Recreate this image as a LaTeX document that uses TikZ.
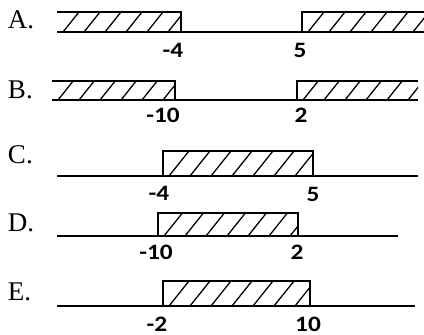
\documentclass[tikz,border=0pt]{standalone}
\usepackage{fontspec}
\usepackage{graphicx}
\setmainfont{Liberation Serif}
\newfontfamily\numfont{Carlito}
\begin{document}
\begin{tikzpicture}[x=1pt,y=-1pt,line width=2pt,
	hatch/.style={line width=1.3pt},
	num/.style={font=\numfont\bfseries\fontsize{22}{22}\selectfont,anchor=base,inner sep=0pt},
	lett/.style={font=\fontsize{27}{27}\selectfont,anchor=base west,inner sep=0pt}]
	\useasboundingbox (0,0) rectangle (424,335);
	
	% Hatching (left, right, top, bottom)
	\foreach \xa/\xb/\yt/\yb in {57/181/12/32, 302/424/12/32,
		52/175/81/100, 297/418/81/100, 163/313/151/176,
		158/298/213/236, 163/310/281/306}
	{
		\begin{scope}
			\clip (\xa,\yt) rectangle (\xb,\yb);
			\foreach \h in {0,1,...,7}
			\draw[hatch] (\xa+6+\h*21,\yb) -- ++(0.8*\yb-0.8*\yt,\yt-\yb);
		\end{scope}
	}
	
	% Axes
	\draw (57,32)--(424,32);
	\draw (52,100)--(418,100);
	\draw (57,176)--(418,176);
	\draw (57,236)--(398,236);
	\draw (57,306)--(415,306);
	
	% Boxes
	\draw (57,12)--(181,12)--(181,32);
	\draw (424,12)--(302,12)--(302,32);
	\draw (52,81)--(175,81)--(175,100);
	\draw (418,81)--(297,81)--(297,100);
	\draw (163,176)--(163,151)--(313,151)--(313,176);
	\draw (158,236)--(158,213)--(298,213)--(298,236);
	\draw (163,306)--(163,281)--(310,281)--(310,306);
	
	% Letters
	\foreach \n/\y in {A/28, B/98, C/163, D/231, E/300}
	\node[lett] (l\n) at (7,\y) {\n.};
	
	% Numbers
	\foreach \n/\x/\y/\t in {a1/173/57/-4, a2/300/57/5,
		b1/163/122/-10, b2/301/122/2, c1/159/200/-4, c2/313/201/5,
		d1/156/259/-10, d2/297/259/2, e1/157/331/-2, e2/308/331/10}
	\node[num] (\n) at (\x,\y) {\scalebox{1.15}[1]{\t}};
\end{tikzpicture}
\end{document}
